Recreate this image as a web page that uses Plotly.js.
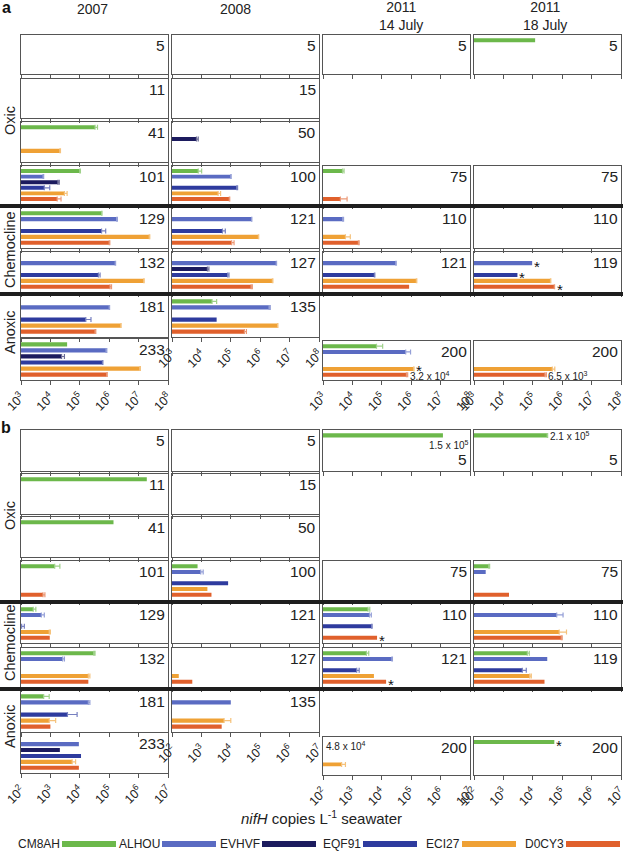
<!DOCTYPE html>
<html><head><meta charset="utf-8">
<script src="https://cdn.plot.ly/plotly-3.0.1.min.js"></script>
<style>html,body{margin:0;padding:0;background:#fff}#chart{width:627px;height:851px}</style>
</head><body><div id="chart"></div>
<script>
// ---------- DATA ----------
const seriesNames = ['CM8AH', 'ALHOU', 'EVHVF', 'EQF91', 'ECI27', 'D0CY3'];
const seriesColors = ['#6cb84b', '#5a6bc2', '#1c1b5e', '#2e3b9e', '#efa135', '#e0602c'];
const columnTitles = ['2007', '2008', '2011<br>14 July', '2011<br>18 July'];
const groupLabels = ['Oxic', 'Chemocline', 'Anoxic'];
const panelLetters = ['a', 'b'];
const expsA = [3, 4, 5, 6, 7, 8];
const expsB = [2, 3, 4, 5, 6, 7];

// Panel a, 2007
const a2007Depths = [5, 11, 41, 101, 129, 132, 181, 233];
const a2007Values = [
  [null, null, null, null, null, null],
  [null, null, null, null, null, null],
  [3.3e5, null, null, null, 2.1e4, null],
  [1.0e5, 5.6e3, 1.8e4, 6.2e3, 3.0e4, 1.7e4],
  [5.5e5, 1.8e6, null, 5.5e5, 2.3e7, 1.0e6],
  [null, 1.6e6, null, 4.3e5, 1.5e7, 1.07e6],
  [null, 1.0e6, null, 1.6e5, 2.5e6, 3.3e5],
  [3.7e4, 7.8e5, 2.4e4, 5.9e5, 1.1e7, 8.3e5]
];
const a2007Errors = [
  [null, null, null, null, null, null],
  [null, null, null, null, null, null],
  [0.7e5, null, null, null, 0.1e4, null],
  [0.05e5, 0.3e3, 0.2e4, 3.3e3, 0.7e4, 0.6e4],
  [0.2e5, 0.1e6, null, 2.1e5, 0.1e7, 0.05e6],
  [null, 0.05e6, null, 0.6e5, 0.05e7, 0.13e6],
  [null, 0.03e6, null, 0.8e5, 0.05e6, 0.2e5],
  [null, 0.5e5, 0.6e4, 0.2e5, 0.05e7, 0.3e5]
];
// Panel a, 2008
const a2008Depths = [5, 15, 50, 100, 121, 127, 135];
const a2008Values = [
  [null, null, null, null, null, null],
  [null, null, null, null, null, null],
  [null, null, 6.8e3, null, null, null],
  [7.8e3, 1.0e5, null, 1.6e5, 3.7e4, 8.9e4],
  [null, 5.1e5, null, 5.2e4, 8.7e5, 1.07e5],
  [null, 3.5e6, 1.6e4, 7.8e4, 2.6e6, 4.9e5],
  [2.3e4, 2.0e6, null, 3.3e4, 3.9e6, 2.9e5]
];
const a2008Errors = [
  [null, null, null, null, null, null],
  [null, null, null, null, null, null],
  [null, null, 1.0e3, null, null, null],
  [2.4e3, 0.03e5, null, 0.1e5, 0.8e4, 0.3e4],
  [null, 0.1e5, null, 1.3e4, 0.2e5, 0.22e5],
  [null, 0.1e6, 0.2e4, 0.9e4, 0.1e6, 0.5e5],
  [1.0e4, 0.2e6, null, null, 0.1e6, 0.5e5]
];
// Panel a, 2011 14 July
const a2011JulyDepths14 = [5, 75, 110, 121, 200];
const a2011JulyValues14 = [
  [null, null, null, null, null, null],
  [4.6e3, null, null, null, null, 3.9e3],
  [null, 4.7e3, null, null, 5.8e3, 1.6e4],
  [null, 3.0e5, null, 5.6e4, 1.5e6, 8.5e5],
  [6.6e4, 6.5e5, null, null, 1.2e6, 6.9e5]
];
const a2011JulyErrors14 = [
  [null, null, null, null, null, null],
  [0.6e3, null, null, null, null, 2.7e3],
  [null, 0.3e3, null, null, 2.7e3, 0.1e4],
  [null, 0.1e5, null, 0.2e4, 0.05e6, null],
  [4.1e4, 3.0e5, null, null, 0.05e6, 0.7e5]
];
// Panel a, 2011 18 July
const a2011JulyDepths18 = [5, 75, 110, 119, 200];
const a2011JulyValues18 = [
  [1.2e5, null, null, null, null, null],
  [null, null, null, null, null, null],
  [null, null, null, null, null, null],
  [null, 9.5e4, null, 3.0e4, 4.0e5, 5.4e5],
  [null, null, null, null, 4.6e5, 2.6e5]
];
const a2011JulyErrors18 = [
  [null, null, null, null, null, null],
  [null, null, null, null, null, null],
  [null, null, null, null, null, null],
  [null, null, null, null, 0.1e5, 0.1e5],
  [null, null, null, null, 1.0e5, 0.3e5]
];
// Panel b, 2007
const b2007Depths = [5, 11, 41, 101, 129, 132, 181, 233];
const b2007Values = [
  [null, null, null, null, null, null],
  [1.9e6, null, null, null, null, null],
  [1.4e5, null, null, null, null, null],
  [1.4e3, null, null, null, null, 5.6e2],
  [2.6e2, 4.9e2, null, 1.05e2, 9.1e2, 9.5e2],
  [3.0e4, 2.6e3, null, null, 1.95e4, 1.95e4],
  [5.9e2, 1.95e4, null, 3.8e3, 9.1e2, 1.0e3],
  [null, 9.3e3, 2.1e3, 1.1e4, 5.5e3, 9.3e3]
];
const b2007Errors = [
  [null, null, null, null, null, null],
  [null, null, null, null, null, null],
  [null, null, null, null, null, null],
  [0.7e3, null, null, null, null, 0.9e2],
  [0.6e2, 1.3e2, null, 0.25e2, 0.9e2, null],
  [0.3e4, 0.4e3, null, null, 0.25e4, null],
  [3.2e2, 0.25e4, null, 4.3e3, 0.6e3, null],
  [null, null, null, null, 1.7e3, null]
];
// Panel b, 2008
const b2008Depths = [5, 15, 50, 100, 121, 127, 135];
const b2008Values = [
  [null, null, null, null, null, null],
  [null, null, null, null, null, null],
  [null, null, null, null, null, null],
  [7.4e2, 9.5e2, null, 8.1e3, 1.6e3, 2.2e3],
  [null, null, null, null, null, null],
  [null, null, null, null, 1.7e2, 4.9e2],
  [null, 1.0e4, null, null, 5.9e3, 4.9e3]
];
const b2008Errors = [
  [null, null, null, null, null, null],
  [null, null, null, null, null, null],
  [null, null, null, null, null, null],
  [null, 2.0e2, null, null, null, null],
  [null, null, null, null, null, null],
  [null, null, null, null, null, null],
  [null, null, null, null, 4.1e3, null]
];
// Panel b, 2011 14 July
const b2011JulyDepths14 = [5, 75, 110, 121, 200];
const b2011JulyValues14 = [
  [1.2e6, null, null, null, null, null],
  [null, null, null, null, null, null],
  [3.4e3, 3.8e3, null, 4.5e3, null, 6.9e3],
  [3.0e3, 2.2e4, null, 1.4e3, 5.4e3, 1.4e4],
  [null, null, null, null, 4.3e2, null]
];
const b2011JulyErrors14 = [
  [null, null, null, null, null, null],
  [null, null, null, null, null, null],
  [0.5e3, 0.6e3, null, 0.2e3, null, null],
  [0.6e3, 0.1e4, null, 0.3e3, null, null],
  [null, null, null, null, 1.5e2, null]
];
// Panel b, 2011 18 July
const b2011JulyDepths18 = [5, 75, 110, 119, 200];
const b2011JulyValues18 = [
  [3.1e4, null, null, null, null, null],
  [3.2e2, 2.5e2, null, null, null, 1.55e3],
  [null, 6.5e4, null, null, 7.9e4, 9.3e4],
  [6.5e3, 3.1e4, null, 4.4e3, 7.9e3, 2.5e4],
  [5.4e4, null, null, null, null, null]
];
const b2011JulyErrors18 = [
  [0.1e4, null, null, null, null, null],
  [0.2e2, null, null, null, null, null],
  [null, 4.2e4, null, null, 6.1e4, 0.7e4],
  [1.1e3, null, null, 1.6e3, 1.0e3, null],
  [null, null, null, null, null, null]
];
// significance stars: [panel, column, depth, series]
const starMarks = [
  ['a', 2, 200, 'ECI27'],
  ['a', 3, 119, 'ALHOU'], ['a', 3, 119, 'EQF91'], ['a', 3, 119, 'D0CY3'],
  ['b', 2, 110, 'D0CY3'], ['b', 2, 121, 'D0CY3'],
  ['b', 3, 200, 'CM8AH']
];
// value notes: [panel, column, depth, series, text]
const valueNotes = [
  ['a', 2, 200, 'D0CY3', '3.2 x 10<sup>4</sup>'],
  ['a', 3, 200, 'D0CY3', '6.5 x 10<sup>3</sup>'],
  ['b', 2, 5, 'CM8AH', '1.5 x 10<sup>5</sup>'],
  ['b', 3, 5, 'CM8AH', '2.1 x 10<sup>5</sup>'],
  ['b', 2, 200, null, '4.8 x 10<sup>4</sup>']
];
const axisTitle = '<i>nifH</i> copies L<sup>-1</sup> seawater';

// ---------- LAYOUT GEOMETRY ----------
const W = 627, H = 851;
const px = x => x / W, py = y => 1 - y / H;
const FONT = 'Liberation Sans, Arial, Helvetica, sans-serif';
const colX = [[21, 168], [172, 319], [323, 470], [474, 621]];
const rowY = {
  a: [[35, 74], [79, 118], [122, 162], [166, 204], [208, 248], [252, 292], [296, 337], [339, 380]],
  b: [[430, 471], [474, 514], [517, 557], [561, 600], [604, 643], [648, 687], [691, 732], [733, 773]]
};
const row8Alt = { a: [341, 380], b: [737, 775] };
const thick = { a: [[204, 208], [292, 296]], b: [[600, 604], [687, 691]] };
const groupPos = { a: [[10, 121], [10, 250], [10, 332]], b: [[10, 516], [10, 643], [10, 726]] };
const letterPos = { a: [6, 8], b: [6, 427] };

function lighten(hex, f) {
  const n = parseInt(hex.slice(1), 16);
  const r = (n >> 16) & 255, g = (n >> 8) & 255, b = n & 255;
  const m = c => Math.round(c + (255 - c) * f);
  return `rgb(${m(r)},${m(g)},${m(b)})`;
}
const errorColors = seriesColors.map(c => lighten(c, 0.35));

const panels = [
  { key: 'a', exps: expsA, cols: [
    { d: a2007Depths, v: a2007Values, e: a2007Errors, slots: [0, 1, 2, 3, 4, 5, 6, 7] },
    { d: a2008Depths, v: a2008Values, e: a2008Errors, slots: [0, 1, 2, 3, 4, 5, 6] },
    { d: a2011JulyDepths14, v: a2011JulyValues14, e: a2011JulyErrors14, slots: [0, 3, 4, 5, 7] },
    { d: a2011JulyDepths18, v: a2011JulyValues18, e: a2011JulyErrors18, slots: [0, 3, 4, 5, 7] }
  ]},
  { key: 'b', exps: expsB, cols: [
    { d: b2007Depths, v: b2007Values, e: b2007Errors, slots: [0, 1, 2, 3, 4, 5, 6, 7] },
    { d: b2008Depths, v: b2008Values, e: b2008Errors, slots: [0, 1, 2, 3, 4, 5, 6] },
    { d: b2011JulyDepths14, v: b2011JulyValues14, e: b2011JulyErrors14, slots: [0, 3, 4, 5, 7] },
    { d: b2011JulyDepths18, v: b2011JulyValues18, e: b2011JulyErrors18, slots: [0, 3, 4, 5, 7] }
  ]}
];

const layout = {
  width: W, height: H, autosize: false,
  margin: { l: 0, r: 0, t: 0, b: 0 },
  paper_bgcolor: '#fff', plot_bgcolor: 'rgba(0,0,0,0)',
  showlegend: false, barmode: 'overlay',
  font: { family: FONT, color: '#222' },
  annotations: [], shapes: []
};
const traces = [];
const boxes = {};
let k = 0;
const LC = '#555';

panels.forEach(p => {
  p.cols.forEach((c, ci) => {
    c.d.forEach((depth, di) => {
      k++;
      const slot = c.slots[di];
      let [y0, y1] = rowY[p.key][slot];
      if (ci >= 2 && slot === 7) [y0, y1] = row8Alt[p.key];
      const xa = k === 1 ? 'xaxis' : 'xaxis' + k;
      const ya = k === 1 ? 'yaxis' : 'yaxis' + k;
      const xr = k === 1 ? 'x' : 'x' + k;
      const yr = k === 1 ? 'y' : 'y' + k;
      const last = di === c.d.length - 1;
      layout[xa] = {
        domain: [px(colX[ci][0]), px(colX[ci][1])], anchor: yr, type: 'log',
        range: [p.exps[0], p.exps[p.exps.length - 1]],
        tickmode: 'array', tickvals: p.exps.map(e => Math.pow(10, e)),
        ticktext: p.exps.map(e => '10<sup>' + e + '</sup>'),
        showticklabels: last, tickangle: -45, tickfont: { size: 12.5, color: '#222' },
        ticklabeloverflow: 'allow',
        ticks: 'outside', ticklen: 4, tickwidth: 1, tickcolor: LC,
        showline: true, mirror: true, linecolor: LC, linewidth: 1,
        showgrid: false, zeroline: false, fixedrange: true
      };
      layout[ya] = {
        domain: [py(y1), py(y0)], anchor: xr, range: [5.9, -0.9],
        showline: true, mirror: true, linecolor: LC, linewidth: 1,
        showgrid: false, zeroline: false, showticklabels: false, ticks: '', fixedrange: true
      };
      // invisible anchor trace so that every box (even an empty one) is drawn
      traces.push({
        type: 'scatter', mode: 'markers', x: [Math.pow(10, p.exps[2])], y: [2.5],
        xaxis: xr, yaxis: yr, marker: { opacity: 0, size: 1 }, hoverinfo: 'skip'
      });
      c.v[di].forEach((val, si) => {
        if (val == null) return;
        const err = c.e[di][si];
        traces.push({
          type: 'bar', orientation: 'h', x: [val], y: [si], xaxis: xr, yaxis: yr,
          width: 0.7, name: seriesNames[si], hoverinfo: 'skip',
          marker: { color: seriesColors[si], line: { width: 0 } },
          error_x: err == null ? { visible: false } :
            { type: 'data', symmetric: false, array: [err], arrayminus: [0],
              color: errorColors[si], thickness: 1.2, width: 2.5 }
        });
      });
      const bottomLabel = p.key === 'b' && ci >= 2 && slot === 0;
      layout.annotations.push({
        xref: xr + ' domain', yref: yr + ' domain', x: 1, y: bottomLabel ? 0 : 1,
        xanchor: 'right', yanchor: bottomLabel ? 'bottom' : 'top',
        xshift: -1, yshift: bottomLabel ? 1 : 0,
        text: String(depth), showarrow: false, font: { size: 15.5, color: '#222' }
      });
      boxes[p.key + '|' + ci + '|' + depth] = { xr, yr, v: c.v[di], e: c.e[di] };
    });
  });
});

// stars
starMarks.forEach(([pk, ci, depth, s]) => {
  const b = boxes[pk + '|' + ci + '|' + depth];
  const si = seriesNames.indexOf(s);
  const end = b.v[si] + (b.e[si] || 0);
  layout.annotations.push({
    xref: b.xr, yref: b.yr, x: Math.log10(end), y: si, xanchor: 'left', yanchor: 'middle',
    xshift: 0, yshift: (pk === 'a' && ci === 2) ? -1 : -3, text: '*', showarrow: false,
    font: { size: 15, color: '#111' }
  });
});
// value notes
valueNotes.forEach(([pk, ci, depth, s, txt]) => {
  const b = boxes[pk + '|' + ci + '|' + depth];
  if (s == null) {
    layout.annotations.push({
      xref: b.xr + ' domain', yref: b.yr + ' domain', x: 0, y: 1, xanchor: 'left', yanchor: 'top',
      xshift: 1, yshift: -1, text: txt, showarrow: false, font: { size: 10, color: '#222' }
    });
    return;
  }
  const si = seriesNames.indexOf(s);
  const end = b.v[si] + (b.e[si] || 0);
  const below = pk === 'b' && ci === 2;
  layout.annotations.push({
    xref: b.xr, yref: b.yr, x: Math.log10(end), y: si,
    xanchor: below ? 'center' : 'left', yanchor: below ? 'top' : 'middle',
    xshift: below ? 6 : 0, yshift: below ? -2 : -1,
    text: txt, showarrow: false, font: { size: 10, color: '#222' }
  });
});

// thick separators
['a', 'b'].forEach(pk => thick[pk].forEach(([t, bt]) => {
  layout.shapes.push({ type: 'rect', xref: 'paper', yref: 'paper', x0: 0, x1: px(623),
    y0: py(bt), y1: py(t), fillcolor: '#1e1e1e', line: { width: 0 }, layer: 'above' });
}));
// group labels & panel letters
['a', 'b'].forEach((pk, pi) => {
  groupLabels.forEach((g, gi) => {
    const [x, y] = groupPos[pk][gi];
    layout.annotations.push({ xref: 'paper', yref: 'paper', x: px(x), y: py(y),
      xanchor: 'center', yanchor: 'middle', textangle: -90, text: g, showarrow: false,
      font: { size: 14.5, color: '#222' } });
  });
  layout.annotations.push({ xref: 'paper', yref: 'paper', x: px(letterPos[pk][0]), y: py(letterPos[pk][1]),
    xanchor: 'center', yanchor: 'middle', text: '<b>' + panelLetters[pi] + '</b>', showarrow: false,
    font: { size: 16, color: '#111' } });
});
// column titles
const titlePos = [[92, 9], [235, 9], [401, 16], [545, 16]];
columnTitles.forEach((t, i) => {
  layout.annotations.push({ xref: 'paper', yref: 'paper', x: px(titlePos[i][0]), y: py(titlePos[i][1]),
    xanchor: 'center', yanchor: 'middle', text: t, showarrow: false,
    font: { size: 14, color: '#222' } });
});
// axis title
layout.annotations.push({ xref: 'paper', yref: 'paper', x: px(321), y: py(817),
  xanchor: 'center', yanchor: 'middle', text: axisTitle, showarrow: false,
  font: { size: 15, color: '#222' } });
// legend
const legBarX = [62, 162, 262, 363, 462, 566];
seriesNames.forEach((s, i) => {
  layout.shapes.push({ type: 'rect', xref: 'paper', yref: 'paper', x0: px(legBarX[i]), x1: px(legBarX[i] + 54),
    y0: py(847), y1: py(841), fillcolor: seriesColors[i], line: { width: 0 } });
  layout.annotations.push({ xref: 'paper', yref: 'paper', x: px(legBarX[i]), y: py(844),
    xanchor: 'right', yanchor: 'middle', xshift: 0, text: s, showarrow: false,
    font: { size: 12, color: '#222' } });
});

Plotly.newPlot('chart', traces, layout, { staticPlot: true, displayModeBar: false });
</script>
</body></html>
